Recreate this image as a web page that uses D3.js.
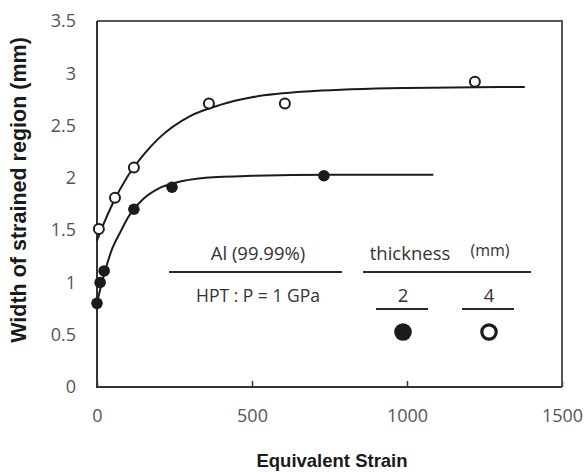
<!DOCTYPE html>
<html>
<head>
<meta charset="utf-8">
<script src="https://cdn.jsdelivr.net/npm/d3@7"></script>
<style>
  html, body { margin: 0; padding: 0; background: #fff; }
  svg { display: block; }
</style>
</head>
<body>
<svg id="chart" width="586" height="472"></svg>
<script>
// measured points, 4 mm disc (open) and 2 mm disc (filled)
const strain4 = [6, 58, 119, 361, 606, 1219];
const width4 = [1.51, 1.81, 2.10, 2.71, 2.71, 2.92];
const strain2 = [0, 10, 23, 119, 242, 732];
const width2 = [0.80, 1.00, 1.11, 1.70, 1.91, 2.02];

// fitted curves
const curve4X = [0, 20, 50, 100, 150, 200, 300, 400, 500, 700, 1000, 1380];
const curve4Y = [1.40, 1.55, 1.75, 2.02, 2.22, 2.38, 2.59, 2.70, 2.77, 2.83, 2.86, 2.87];
const curve2X = [0, 10, 25, 50, 75, 100, 150, 200, 250, 350, 500, 750, 1085];
const curve2Y = [0.80, 0.93, 1.10, 1.33, 1.48, 1.62, 1.80, 1.90, 1.95, 2.00, 2.02, 2.03, 2.03];

const xTicks = [0, 500, 1000, 1500];
const yTicks = [0, 0.5, 1, 1.5, 2, 2.5, 3, 3.5];

const svg = d3.select('#chart');
const m = { left: 97, right: 562, top: 21, bottom: 387 };

const x = d3.scaleLinear().domain([0, 1500]).range([m.left, m.right]);
const y = d3.scaleLinear().domain([0, 3.5]).range([m.bottom, m.top]);

const ink = '#1b1b1b';
const tickFont = '"Open Sans", sans-serif';

// x axis: inward ticks, labels below
const xAxis = svg.append('g').attr('transform', `translate(0,${m.bottom})`)
  .call(d3.axisBottom(x).tickValues(xTicks).tickFormat(d3.format('d'))
    .tickSizeInner(-6).tickSizeOuter(0).tickPadding(22));
xAxis.select('.domain').remove();
xAxis.selectAll('.tick line').attr('stroke', '#3a3a3a').attr('stroke-width', 1.5);
xAxis.selectAll('.tick text').attr('font-family', tickFont).attr('font-size', 18).attr('fill', '#555');

const yAxis = svg.append('g').attr('transform', `translate(${m.left},0)`)
  .call(d3.axisLeft(y).tickValues(yTicks).tickSize(0).tickPadding(21).tickFormat(d3.format('~g')));
yAxis.select('.domain').remove();
yAxis.selectAll('.tick text').attr('font-family', tickFont).attr('font-size', 18).attr('fill', '#555');

// axis titles
svg.append('text')
  .attr('transform', 'translate(26,190) rotate(-90)')
  .attr('text-anchor', 'middle')
  .attr('font-family', '"Liberation Sans", Arial, sans-serif')
  .attr('font-weight', 'bold').attr('font-size', 21.5).attr('fill', '#1a1a1a')
  .text('Width of strained region (mm)');

svg.append('text')
  .attr('x', 332).attr('y', 467)
  .attr('text-anchor', 'middle')
  .attr('font-family', '"Liberation Sans", Arial, sans-serif')
  .attr('font-weight', 'bold').attr('font-size', 18.5).attr('fill', '#1a1a1a')
  .text('Equivalent Strain');

// plot frame, drawn above the axes; top and right edges lighter
svg.append('path')
  .attr('d', `M${x(0)},${y(3.5)}H${x(1500)}V${y(0)}`)
  .attr('fill', 'none').attr('stroke', '#555').attr('stroke-width', 2);
svg.append('path')
  .attr('d', `M${x(0)},${y(3.5)}V${y(0)}H${x(1500)}`)
  .attr('fill', 'none').attr('stroke', '#333').attr('stroke-width', 2);

// curves
const line = d3.line().x(d => x(d[0])).y(d => y(d[1])).curve(d3.curveMonotoneX);
svg.append('path').datum(d3.zip(curve4X, curve4Y)).attr('d', line)
  .attr('fill', 'none').attr('stroke', ink).attr('stroke-width', 2);
svg.append('path').datum(d3.zip(curve2X, curve2Y)).attr('d', line)
  .attr('fill', 'none').attr('stroke', ink).attr('stroke-width', 2);

// points
svg.append('g').selectAll('circle').data(d3.zip(strain4, width4)).join('circle')
  .attr('cx', d => x(d[0])).attr('cy', d => y(d[1])).attr('r', 5)
  .attr('fill', '#fff').attr('stroke', ink).attr('stroke-width', 2);
svg.append('g').selectAll('circle').data(d3.zip(strain2, width2)).join('circle')
  .attr('cx', d => x(d[0])).attr('cy', d => y(d[1])).attr('r', 5.8)
  .attr('fill', ink);

// legend table
const lg = svg.append('g').attr('font-family', tickFont).attr('fill', '#333');
const rule = (x1, x2, yy) => lg.append('line').attr('x1', x1).attr('x2', x2).attr('y1', yy).attr('y2', yy)
  .attr('stroke', '#2a2a2a').attr('stroke-width', 2);

lg.append('text').attr('x', 258).attr('y', 260).attr('text-anchor', 'middle').attr('font-size', 18.5).text('Al (99.99%)');
rule(169, 342, 272);
lg.append('text').attr('x', 258).attr('y', 302).attr('text-anchor', 'middle').attr('font-size', 17.5).text('HPT : P = 1 GPa');

lg.append('text').attr('x', 410).attr('y', 260).attr('text-anchor', 'middle').attr('font-size', 18.5).text('thickness');
lg.append('text').attr('x', 490).attr('y', 256).attr('text-anchor', 'middle').attr('font-size', 16).text('(mm)');
rule(363, 531, 272);

lg.append('text').attr('x', 403).attr('y', 302).attr('text-anchor', 'middle').attr('font-size', 18.5).text('2');
rule(376, 428, 309);
lg.append('text').attr('x', 489).attr('y', 302).attr('text-anchor', 'middle').attr('font-size', 18.5).text('4');
rule(462, 514, 309);

lg.append('circle').attr('cx', 403).attr('cy', 332).attr('r', 8.8).attr('fill', ink);
lg.append('circle').attr('cx', 489).attr('cy', 332).attr('r', 7.2)
  .attr('fill', '#fff').attr('stroke', ink).attr('stroke-width', 3.2);
</script>
</body>
</html>
